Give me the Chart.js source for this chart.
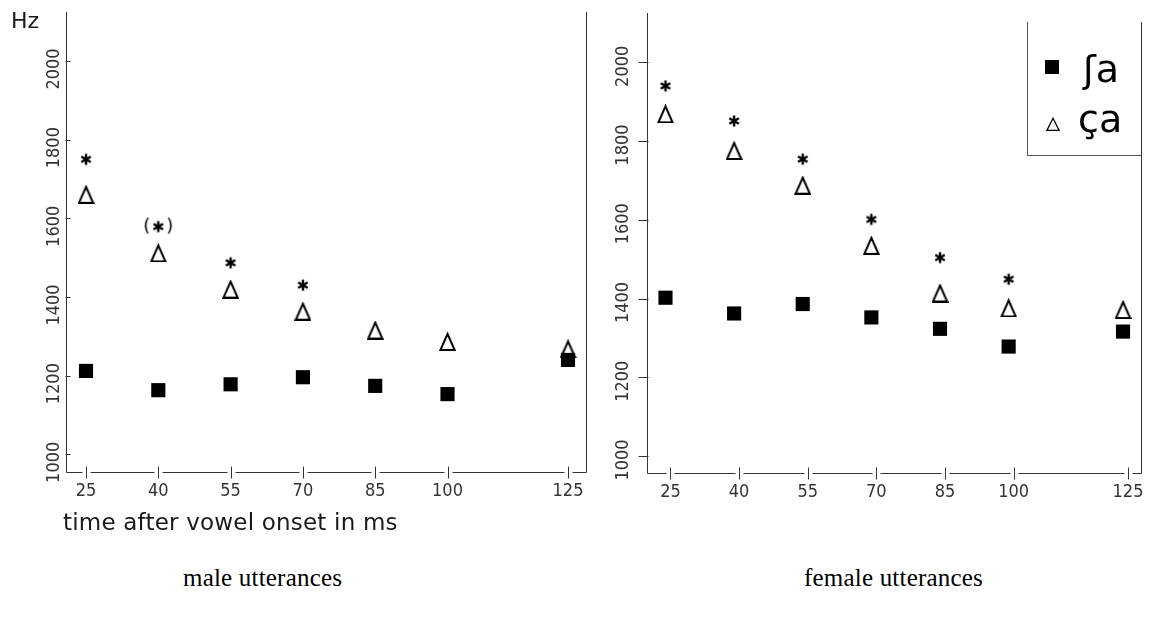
<!DOCTYPE html>
<html>
<head>
<meta charset="utf-8">
<script src="https://cdn.jsdelivr.net/npm/chart.js@4.4.1/dist/chart.umd.min.js"></script>
<style>
  body { margin: 0; width: 1152px; height: 622px; background: #fff; position: relative; overflow: hidden; }
  canvas { position: absolute; top: 0; }
  .txt { position: absolute; white-space: nowrap; color: #1a1a1a; }
  #hz { left: 11px; top: 10px; font: 22px/22px 'DejaVu Sans', sans-serif; }
  #xtitle { left: 63px; top: 511px; font: 23px/23px 'DejaVu Sans', sans-serif; letter-spacing: 0.2px; }
  .cap { top: 565px; font: 25px/25px 'Liberation Serif', 'Times New Roman', serif; color: #000; letter-spacing: 0.2px; }
  #legbox { position: absolute; left: 1027px; top: 22px; width: 114px; height: 133px;
            border-left: 1px solid #555; border-bottom: 1px solid #555; }
  .legtxt { font: 38px/38px 'DejaVu Sans', sans-serif; color: #000; }
</style>
</head>
<body>
<canvas id="male" width="600" height="510" style="left:0px"></canvas>
<canvas id="female" width="552" height="510" style="left:600px"></canvas>
<div class="txt" id="hz">Hz</div>
<div class="txt" id="xtitle">time after vowel onset in ms</div>
<div class="txt cap" style="left:183px">male utterances</div>
<div class="txt cap" style="left:804px">female utterances</div>
<div id="legbox"></div>
<div id="legSq" style="position:absolute; left:1045px; top:60px; width:14px; height:14px; background:#000"></div>
<canvas id="legTri" width="14" height="14" style="left:1046px; top:117px"></canvas>
<div class="txt legtxt" id="leg0" style="left:1083px; top:50px"></div>
<div class="txt legtxt" id="leg1" style="left:1078px; top:100px"></div>

<script>
// values (Hz)
var seriesNames = ['ʃa', 'ça'];
var xValues = [25, 40, 55, 70, 85, 100, 125];
var yTicks = [1000, 1200, 1400, 1600, 1800, 2000];

var maleSh = [1212, 1163, 1178, 1196, 1174, 1153, 1240];
var maleCa = [1661, 1512, 1420, 1364, 1316, 1287, 1268];
var maleSig = [1750, 1579, 1487, 1430, null, null, null];
var maleSigMark = ['*', '(*)', '*', '*', '', '', ''];

var femaleSh = [1402, 1362, 1386, 1352, 1323, 1278, 1316];
var femaleCa = [1869, 1776, 1688, 1535, 1414, 1376, 1372];
var femaleSig = [1940, 1851, 1754, 1601, 1504, 1449, null];
var femaleSigMark = ['*', '*', '*', '*', '*', '*', ''];

var tickFont = "'Liberation Sans Narrow', 'DejaVu Sans Condensed', 'Liberation Sans', sans-serif";

function triImg(w, h, lw, c) {
  c = c || document.createElement('canvas');
  c.width = w; c.height = h;
  var g = c.getContext('2d');
  g.lineWidth = lw;
  g.strokeStyle = '#000';
  g.beginPath();
  g.moveTo(w / 2, lw);
  g.lineTo(w - lw * 0.7, h - lw / 2);
  g.lineTo(lw * 0.7, h - lw / 2);
  g.closePath();
  g.stroke();
  return c;
}

function starImg(paren) {
  var c = document.createElement('canvas');
  var w = paren ? 30 : 14, h = 20;
  c.width = w; c.height = h;
  var g = c.getContext('2d');
  var cx = w / 2, cy = h / 2, r = 5.5;
  g.lineWidth = 2.4;
  g.strokeStyle = '#000';
  g.beginPath();
  [90, 30, -30].forEach(function(a) {
    var t = a * Math.PI / 180;
    g.moveTo(cx - Math.cos(t) * r, cy - Math.sin(t) * r);
    g.lineTo(cx + Math.cos(t) * r, cy + Math.sin(t) * r);
  });
  g.stroke();
  if (paren) {
    g.fillStyle = '#000';
    g.font = '18px "DejaVu Sans", sans-serif';
    g.textBaseline = 'middle';
    g.textAlign = 'left';
    g.fillText('(', 0, cy);
    g.textAlign = 'right';
    g.fillText(')', w, cy);
  }
  return c;
}

var triBig = triImg(17, 19, 2);
var star = starImg(false);
var starParen = starImg(true);

function frame(o) {
  return {
    id: 'frame',
    beforeDatasetsDraw: function(chart) {
      var ctx = chart.ctx, a = chart.chartArea, xs = chart.scales.x, ys = chart.scales.y;
      var L = Math.round(a.left) + 0.5, R = Math.round(a.right) + 0.5, B = Math.round(a.bottom) + 0.5;
      ctx.save();
      ctx.strokeStyle = '#333';
      ctx.lineWidth = 1;
      ctx.beginPath();
      ctx.moveTo(L, Math.round(a.top)); ctx.lineTo(L, B);
      ctx.moveTo(R, o.rightTop); ctx.lineTo(R, B);
      var start = L;
      xValues.forEach(function(v) {
        var p = Math.round(xs.getPixelForValue(v) + o.tickShift) + 0.5;
        ctx.moveTo(start, B); ctx.lineTo(p - 4, B);
        ctx.moveTo(p, B - 6); ctx.lineTo(p, B + 6);
        start = p + 4;
      });
      ctx.moveTo(start, B); ctx.lineTo(R, B);
      yTicks.forEach(function(v) {
        var y = Math.round(ys.getPixelForValue(v)) + 0.5;
        ctx.moveTo(L - o.yTickOut, y); ctx.lineTo(L + o.yTickIn, y);
      });
      ctx.stroke();

      ctx.fillStyle = '#333';
      ctx.font = '18px ' + tickFont;
      ctx.textAlign = 'center';
      ctx.textBaseline = 'middle';
      yTicks.forEach(function(v) {
        ctx.save();
        ctx.translate(o.yLabelX, ys.getPixelForValue(v) + o.yLabelShift);
        ctx.rotate(-Math.PI / 2);
        ctx.fillText(String(v), 0, 0);
        ctx.restore();
      });
      ctx.restore();
    }
  };
}

function drawPanel(id, sh, ca, sig, marks, o) {
  var pts = function(arr) {
    return xValues.map(function(x, i) { return { x: x, y: arr[i] }; });
  };
  var sigIdx = [];
  sig.forEach(function(v, i) { if (v !== null) sigIdx.push(i); });
  var sigPts = sigIdx.map(function(i) { return { x: xValues[i], y: sig[i] }; });
  var sigStyles = sigIdx.map(function(i) { return marks[i] === '(*)' ? starParen : star; });

  return new Chart(document.getElementById(id), {
    type: 'scatter',
    data: {
      datasets: [
        { label: seriesNames[0], data: pts(sh), pointStyle: 'rect', pointRadius: 10,
          backgroundColor: '#000', borderWidth: 0, order: 0 },
        { label: seriesNames[1], data: pts(ca), pointStyle: triBig, pointRadius: 9, order: 1 },
        { label: 'sig', data: sigPts, pointStyle: sigStyles, pointRadius: 7, order: 2 }
      ]
    },
    options: {
      responsive: false,
      animation: false,
      events: [],
      layout: { padding: { left: 0, top: o.top, right: o.padRight, bottom: 0 } },
      plugins: { legend: { display: false }, tooltip: { enabled: false } },
      scales: {
        x: {
          type: 'linear', min: o.xMin, max: o.xMax,
          grid: { display: false, drawTicks: false },
          border: { display: false },
          afterBuildTicks: function(s) { s.ticks = xValues.map(function(v) { return { value: v }; }); },
          afterFit: function(s) { s.height = o.xAxisH; },
          ticks: { autoSkip: false, maxRotation: 0, minRotation: 0, padding: 9, labelOffset: o.tickShift,
                   color: '#333', font: { family: tickFont, size: 18 } }
        },
        y: {
          min: o.yMin, max: o.yMax,
          grid: { display: false, drawTicks: false },
          border: { display: false },
          ticks: { display: false },
          afterFit: function(s) { s.width = o.yAxisW; }
        }
      }
    },
    plugins: [frame(o)]
  });
}

drawPanel('male', maleSh, maleCa, maleSig, maleSigMark, {
  top: 12, padRight: 14, xAxisH: 38, yAxisW: 66,
  xMin: 20.85, xMax: 128.73, yMin: 955, yMax: 2124.6,
  tickShift: 0, rightTop: 12, yTickOut: 1, yTickIn: 4, yLabelX: 54, yLabelShift: 8
});

drawPanel('female', femaleSh, femaleCa, femaleSig, femaleSigMark, {
  top: 13, padRight: 11, xAxisH: 37, yAxisW: 47,
  xMin: 20.96, xMax: 128.93, yMin: 956.8, yMax: 2125.2,
  tickShift: 5, rightTop: 22, yTickOut: 9, yTickIn: 1, yLabelX: 23.3, yLabelShift: 4
});

// legend
triImg(14, 14, 1.3, document.getElementById('legTri'));
document.getElementById('leg0').textContent = seriesNames[0];
document.getElementById('leg1').textContent = seriesNames[1];
</script>
</body>
</html>
